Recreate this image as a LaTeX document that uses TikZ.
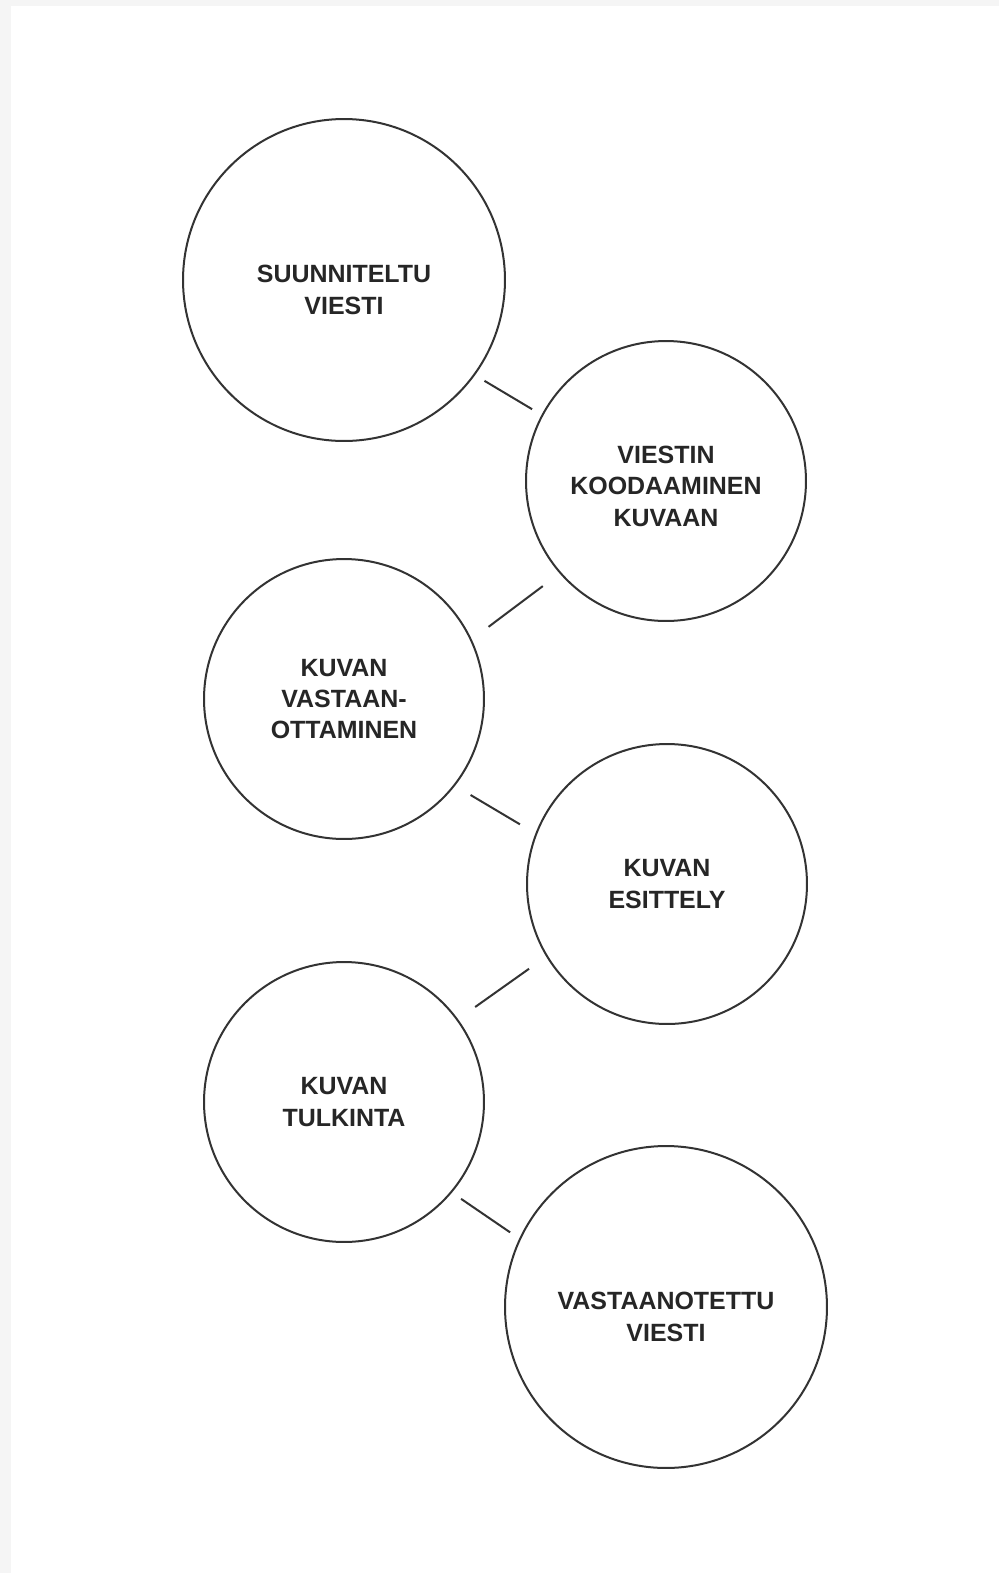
\documentclass[tikz,border=0pt]{standalone}
\usepackage{fontspec}
\setmainfont{Liberation Sans}
\begin{document}
\begin{tikzpicture}[x=0.02cm,y=-0.02cm,
    vaihe/.style={draw=black!80,line width=0.04cm,circle,minimum size=5.6cm,inner sep=0pt,
      align=center,text=black!85,font=\fontsize{14.2}{17.9}\selectfont\bfseries},
    iso/.style={minimum size=6.44cm,text height=1.38cm},
    viiva/.style={draw=black!80,line width=0.04cm}]
      \useasboundingbox (0,0) rectangle (999,1573);
      \fill[black!4] (0,0) rectangle (999,1573);
      \fill[white] (11,6) rectangle (999,1573);
      \node[vaihe,iso] (V1) at (344,280) {SUUNNITELTU\\VIESTI};
      \node[vaihe,text height=1.82cm] (V2) at (666,481) {VIESTIN\\KOODAAMINEN\\KUVAAN};
      \node[vaihe] (V3) at (344,699) {KUVAN\\VASTAAN-\\OTTAMINEN};
      \node[vaihe] (V4) at (667,884) {KUVAN\\ESITTELY};
      \node[vaihe] (V5) at (344,1102) {KUVAN\\TULKINTA};
      \node[vaihe,iso] (V6) at (666,1307) {VASTAANOTETTU\\VIESTI};
      \draw[viiva,shorten <=0.22cm,shorten >=0.22cm] (V1.-36) -- (V2.152);
      \draw[viiva,shorten <=0.42cm,shorten >=0.42cm] (V2.-139) -- (V3.25);
      \draw[viiva,shorten <=0.36cm,shorten >=0.36cm] (V3.-38) -- (V4.159);
      \draw[viiva,shorten <=0.42cm,shorten >=0.42cm] (V4.-149) -- (V5.36);
      \draw[viiva,shorten <=0.22cm,shorten >=0.22cm] (V5.-40) -- (V6.155);
    \end{tikzpicture}
\end{document}
